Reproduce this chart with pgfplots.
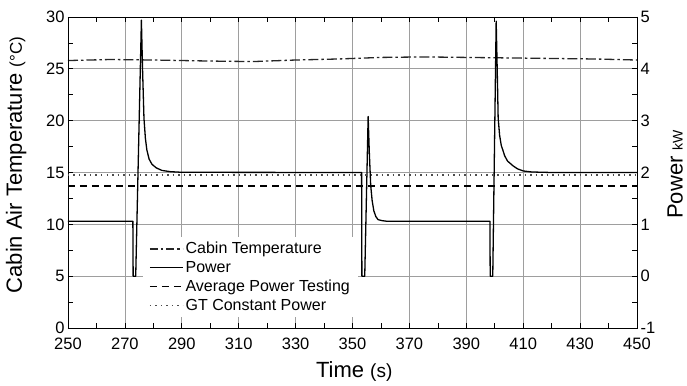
\documentclass[border=0pt]{standalone}
\usepackage{fontspec}
\setmainfont{Liberation Sans}
\usepackage{pgfplots}
\pgfplotsset{compat=1.18}
\definecolor{gridgray}{gray}{0.62}
\definecolor{cabincol}{gray}{0.15}
\definecolor{gtcol}{gray}{0.3}
\begin{document}
\begin{tikzpicture}
\pgfplotsset{
  common/.style={
    scale only axis, width=569pt, height=311pt,
    xmin=250, xmax=450,
    tick align=inside,
    major tick length=5pt, minor tick length=5pt,
    tick style={black, line width=0.7pt},
    axis line style={black, line width=0.8pt},
    /pgf/number format/assume math mode=true,
    ticklabel style={font=\fontsize{16.5}{18}\selectfont},
    label style={font=\fontsize{22}{24}\selectfont},
  }
}
\begin{axis}[common,
  ymin=0, ymax=30,
  xtick={250,270,...,450}, minor x tick num=1,
  ytick={0,5,...,30}, minor y tick num=1,
  ytick pos=left,
  xticklabel style={yshift=-6pt},
  grid=major, major grid style={gridgray, line width=0.8pt},
  xlabel={Time {\fontsize{19}{21}\selectfont(s)}},
  xlabel style={at={(axis description cs:0.503,-0.14)}, anchor=center},
  ylabel={Cabin Air Temperature {\fontsize{17}{19}\selectfont(°C)}},
  ylabel style={at={(axis description cs:-0.091,0.524)}, anchor=center},
]
\addplot[cabincol, line width=1.3pt, dash pattern=on 10pt off 3pt on 2.5pt off 3pt] coordinates {
(250,25.8) (265,25.9) (280,25.85) (300,25.75) (315,25.7) (330,25.85) (345,25.95)
(360,26.1) (375,26.15) (390,26.1) (405,26.05) (420,26.0) (435,25.95) (450,25.85)};
\end{axis}
\begin{axis}[common,
  ymin=-1, ymax=5,
  hide x axis,
  ytick={-1,0,...,5}, minor y tick num=1,
  ytick pos=right,
  ylabel={Power {\fontsize{14}{16}\selectfont kW}},
  ylabel style={at={(axis description cs:1.067,0.494)}, anchor=center, rotate=0},
  legend style={at={(axis description cs:0.132,0.292)}, anchor=north west,
    draw=none, fill=white, font=\fontsize{16}{18}\selectfont,
    inner xsep=6pt, inner ysep=3pt, row sep=2pt,
    cells={anchor=west}},
  legend image code/.code={\draw[#1] (0pt,0pt) -- (33pt,0pt);},
]
\coordinate (sw) at (rel axis cs:0,0);
\coordinate (ne) at (rel axis cs:1,1);
\addlegendimage{cabincol, line width=1.3pt, dash pattern=on 8pt off 3pt on 2.5pt off 3pt}
\addlegendentry{Cabin Temperature}
\addplot[black, line width=1.3pt, line join=round] coordinates {
(250,1.06) (272.8,1.06) (272.9,0) (273.8,0) (275.8,4.94) (276.2,4.0) (276.7,3.05)
(277.2,2.66) (277.7,2.44) (278.5,2.26) (279.5,2.16) (281,2.09) (283,2.04) (286,2.016)
(290,2.004) (353.2,2.0) (353.3,0) (354.3,0) (355.5,3.08) (355.9,2.4) (356.4,1.75)
(356.9,1.46) (357.5,1.26) (358.2,1.15) (359,1.09) (360.5,1.07) (362,1.06) (398.3,1.06)
(398.4,0) (399.3,0) (400.5,4.92) (400.9,3.9) (401.2,3.05) (401.7,2.72) (402.3,2.52)
(402.8,2.44) (403.5,2.32) (404.5,2.22) (406.4,2.13) (408,2.07) (410,2.03) (413,2.01)
(420,2.0) (450,2.0)};
\addlegendentry{Power}
\addplot[black, line width=1.2pt, dash pattern=on 7pt off 5pt] coordinates {(250,1.74) (450,1.74)};
\addlegendentry{Average Power Testing}
\addplot[gtcol, line width=1.3pt, dash pattern=on 1.5pt off 4pt] coordinates {(250,1.95) (450,1.95)};
\addlegendentry{GT Constant Power}
\end{axis}
\pgfresetboundingbox
\path ([xshift=-68pt,yshift=-57pt]sw) rectangle ([xshift=50pt,yshift=17pt]ne);
\end{tikzpicture}
\end{document}
